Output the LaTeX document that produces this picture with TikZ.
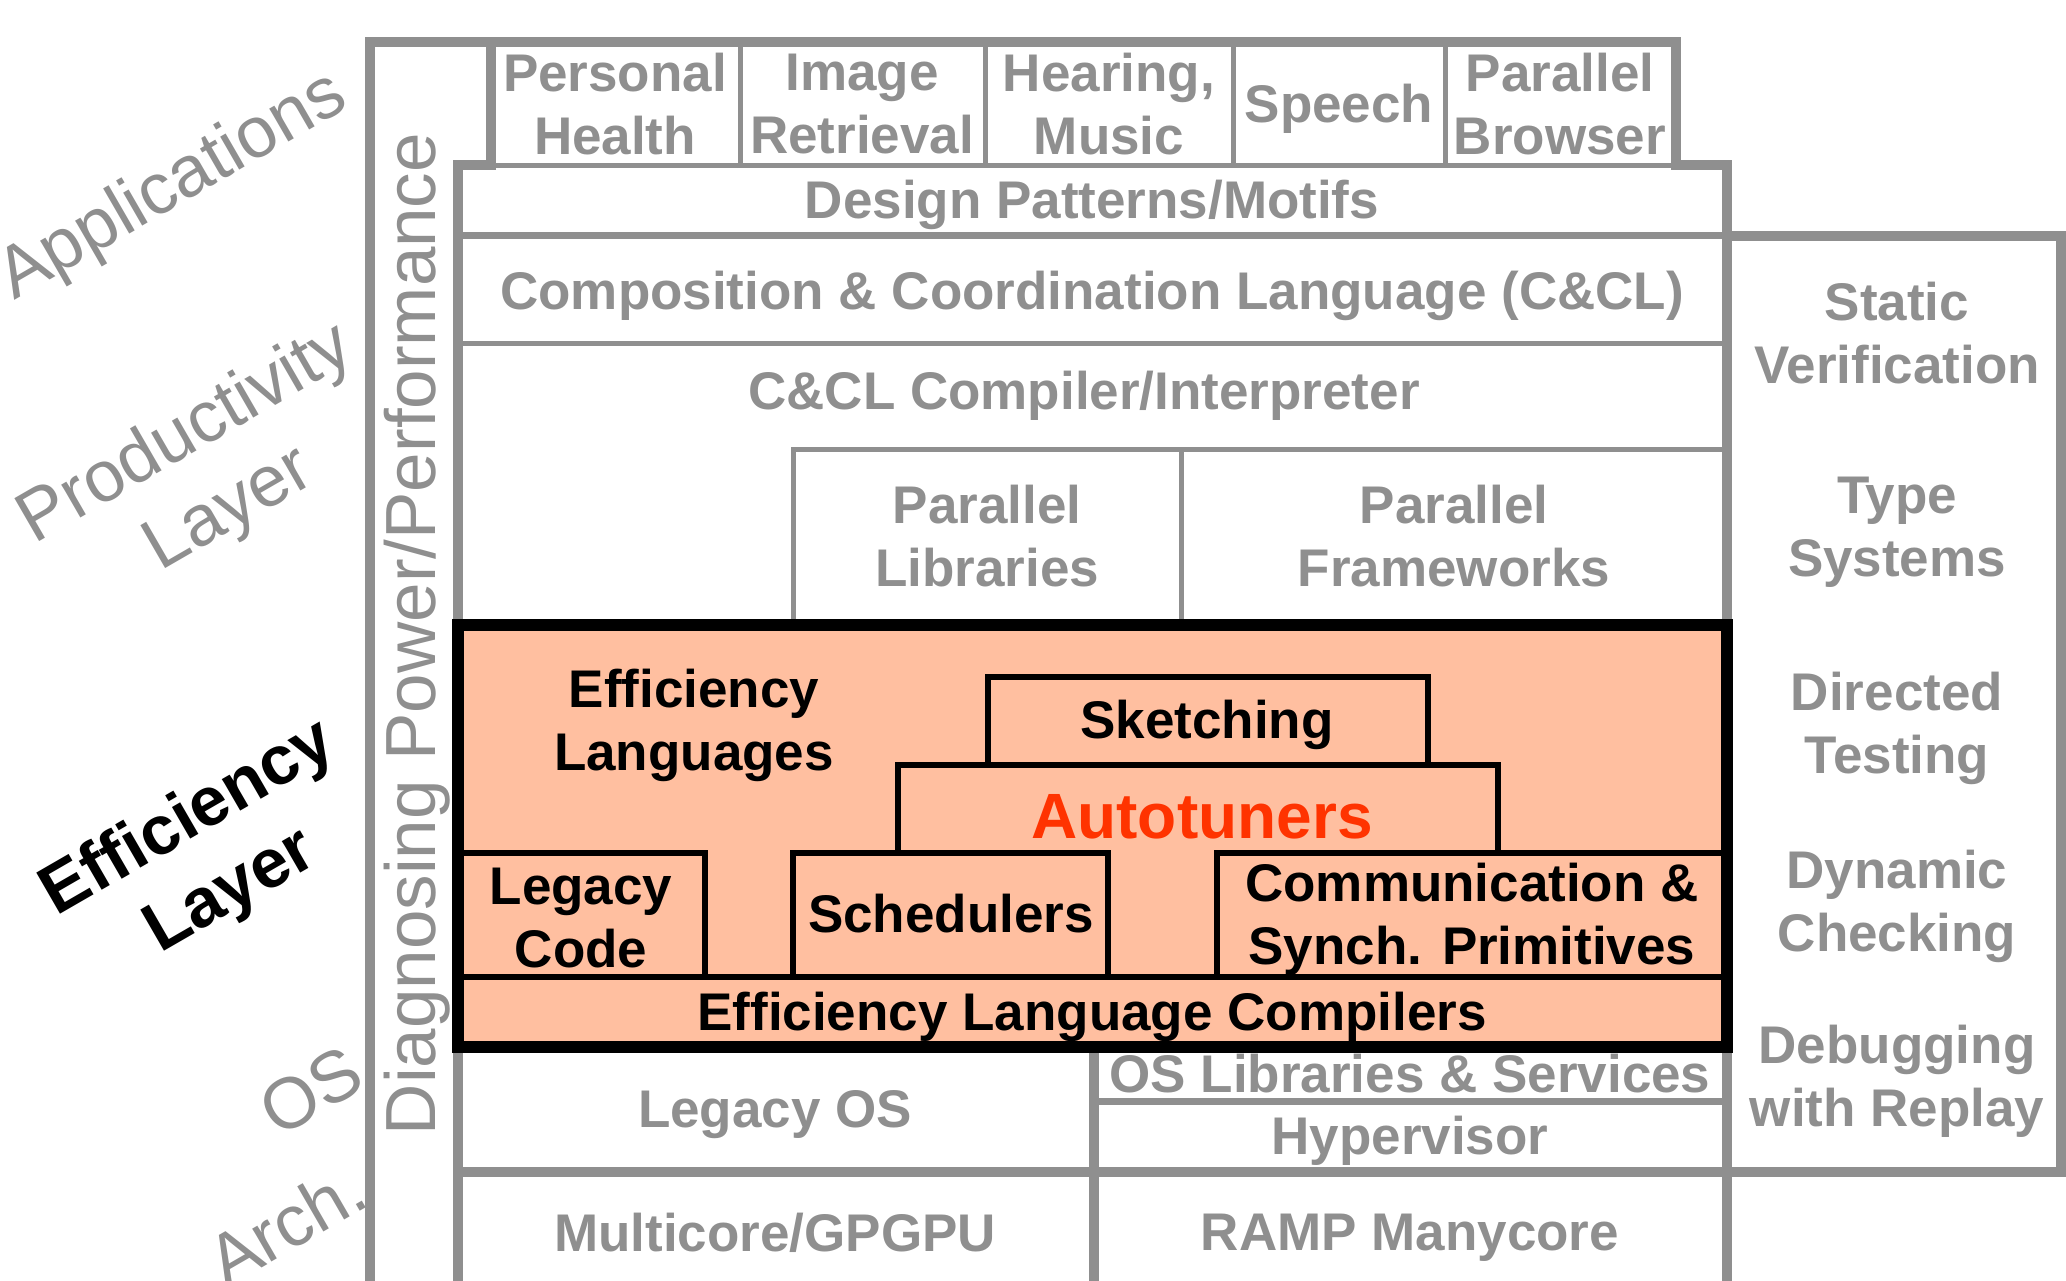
\documentclass[tikz,border=0pt]{standalone}
\usepackage{fontspec}
\setmainfont{Liberation Sans}
\definecolor{gcol}{RGB}{143,143,143}
\definecolor{salmon}{RGB}{255,191,160}
\definecolor{autored}{RGB}{255,51,0}
\tikzset{
  lab/.style={font=\fontsize{53}{63}\selectfont\bfseries, align=center, text=gcol, inner sep=0pt},
  blab/.style={lab, text=black},
  side/.style={font=\fontsize{72}{86}\selectfont, align=center, text=gcol, rotate=30, inner sep=0pt},
  thickg/.style={draw=gcol, line width=10pt},
  midg/.style={draw=gcol, line width=7pt},
  thing/.style={draw=gcol, line width=5pt},
  thinb/.style={draw=black, line width=6pt},
}
\begin{document}
\begin{tikzpicture}[x=1pt,y=-1pt]
\useasboundingbox (0,0) rectangle (2066,1280);
% gray frame
\draw[thickg, line join=miter] (370,1300) -- (370,42) -- (1676,42) -- (1676,165) -- (1727,165) -- (1727,1300);
\draw[thickg, line join=miter] (458,1300) -- (458,165) -- (491,165) -- (491,42);
\draw[thing] (491,165) -- (1676,165);
\foreach \xx in {740,985,1233,1445} \draw[thing] (\xx,42) -- (\xx,165);
\draw[midg] (458,235) -- (1727,235);
\draw[thickg] (1727,236) rectangle (2061,1172);
\draw[thing] (458,343) -- (1727,343);
\draw[thing] (793,625) -- (793,449) -- (1727,449);
\draw[thing] (1181,449) -- (1181,625);
\draw[thickg] (1094,1047) -- (1094,1300);
\draw[midg] (1094,1101) -- (1727,1101);
\draw[thickg] (458,1172) -- (2061,1172);
% efficiency layer
\fill[salmon] (458,625) rectangle (1727,1047);
\draw[thinb] (988,677) rectangle (1428,765);
\draw[thinb, line join=miter] (898,853) -- (898,765) -- (1498,765) -- (1498,853);
\draw[thinb] (458,853) rectangle (705,977);
\draw[thinb] (793,853) rectangle (1108,977);
\draw[thinb] (1217,853) rectangle (1727,977);
\draw[thinb] (458,977) -- (1727,977);
\draw[black, line width=12pt] (458,625) rectangle (1727,1047);
% application texts
\node[lab] (ph) at (615,104) {Personal\\Health};
\node[lab] (ir) at (862,104) {Image\\Retrieval};
\node[lab] (hm) at (1109,104) {Hearing,\\Music};
\node[lab] (sp) at (1339,109) {Speech};
\node[lab] (pb) at (1560,104) {Parallel\\Browser};
\node[lab] (dp) at (1092,205) {Design Patterns/Motifs};
\node[lab] (ccl) at (1092,296) {Composition \& Coordination Language (C\&CL)};
\node[lab] (cci) at (1084,396) {C\&CL Compiler/Interpreter};
\node[lab] (pl) at (987,536) {Parallel\\Libraries};
\node[lab] (pf) at (1454,536) {Parallel\\Frameworks};
% efficiency texts
\node[blab] (el) at (694,725) {Efficiency\\Languages};
\node[blab] (sk) at (1207,725) {Sketching};
\node[lab, font=\fontsize{64}{70}\selectfont\bfseries, text=autored] (at) at (1202,817) {Autotuners};
\node[blab] (lc) at (581,918) {Legacy\\Code};
\node[blab] (sc) at (951,914) {Schedulers};
\node[blab] (cs) at (1472,919) {Communication \&\\Synch. Primitives};
\node[blab] (ec) at (1092,1017) {Efficiency Language Compilers};
% OS / arch texts
\node[lab] (lo) at (775,1115) {Legacy OS};
\node[lab] (ol) at (1410,1074) {OS Libraries \& Services};
\node[lab] (hv) at (1410,1141) {Hypervisor};
\node[lab] (mc) at (775,1233) {Multicore/GPGPU};
\node[lab] (rm) at (1410,1238) {RAMP Manycore};
% right column
\node[lab] (sv) at (1897,333) {Static\\Verification};
\node[lab] (ts) at (1897,532) {Type\\Systems};
\node[lab] (dt) at (1897,728) {Directed\\Testing};
\node[lab] (dc) at (1897,906) {Dynamic\\Checking};
\node[lab] (dr) at (1897,1081) {Debugging\\with Replay};
% side labels
\node[side] (apps) at (173,187) {Applications};
\node[side] (prod) at (208,473) {Productivity\\Layer};
\node[side, text=black, font=\fontsize{69}{84}\selectfont\bfseries] (eff) at (210,856) {Efficiency\\Layer};
\node[side] (os) at (311,1091) {OS};
\node[side] (arch) at (286,1224) {Arch.};
\node[font=\fontsize{71}{80}\selectfont, text=gcol, rotate=90, anchor=base, inner sep=0pt] (diag) at (435,634) {Diagnosing Power/Performance};
\end{tikzpicture}
\end{document}
